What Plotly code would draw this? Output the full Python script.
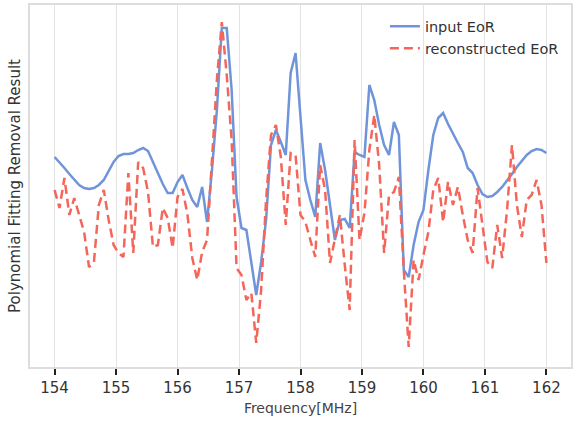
import numpy as np
import plotly.graph_objects as go

# Frequency channels: 154-162 MHz in 0.08 MHz steps (101 channels)
freq = np.round(154 + 0.08 * np.arange(101), 2)

input_eor = [
    4.3, 3.8, 3.2, 2.6, 2.0, 1.5, 1.2, 1.1, 1.2, 1.5,
    2.0, 2.9, 3.8, 4.4, 4.6, 4.6, 4.7, 5.0, 5.2, 4.9,
    3.8, 2.6, 1.6, 0.7, 0.7, 1.8, 2.5, 1.2, 0.0, -0.7,
    1.3, -2.2, 3.0, 9.0, 17.2, 17.2, 11.0, 0.3, -2.8, -3.0,
    -6.2, -9.5, -6.2, -2.0, 5.5, 7.0, 5.8, 4.5, 12.7, 14.7,
    8.3, 2.0, 0.0, -1.7, 5.7, 3.0, -0.5, -4.0, -2.0, -1.9,
    -2.8, 4.8, 4.5, 4.3, 11.5, 10.0, 7.5, 5.5, 4.5, 7.8,
    6.5, -7.0, -7.7, -4.5, -2.2, -1.0, 3.0, 6.5, 8.2, 8.7,
    7.6, 6.6, 5.7, 4.8, 3.2, 2.7, 1.5, 0.6, 0.3, 0.4,
    0.8, 1.3, 1.9, 2.6, 3.3, 3.9, 4.5, 4.9, 5.1, 5.0,
    4.7,
]

reconstructed_eor = [
    1.0, -0.8, 2.2, -1.5, 0.2, -1.5, -3.2, -6.7, -6.2, -0.5,
    1.0, -2.0, -4.5, -5.3, -5.7, 2.7, -5.3, 3.8, 3.2, 0.8,
    -4.7, -4.5, -0.8, -1.8, -4.8, 0.3, 1.1, -1.4, -5.8, -8.0,
    -5.2, -4.0, 4.0, 12.0, 17.8, 12.5, 6.0, -6.8, -7.5, -10.0,
    -9.3, -14.3, -9.0, 0.0, 6.5, 7.5, 4.3, -2.5, 4.7, 4.5,
    -1.5, -2.2, -4.0, -5.7, 3.5, 1.0, -6.3, -3.7, -1.5, -6.5,
    -11.0, 6.0, -4.0, -1.3, 5.0, 8.5, 3.5, -5.3, 0.5, 0.8,
    2.3, -7.0, -14.7, -6.0, -8.0, -5.5, -3.2, 1.0, 2.2, -2.2,
    1.8, -0.5, 1.3, -1.5, -4.0, -5.3, 1.2, -2.5, -6.2, -6.8,
    -2.5, -5.8, -1.0, 5.5, -0.5, -3.7, 0.0, 0.5, 2.0, -0.5,
    -6.3,
]

tick_vals = [154, 155, 156, 157, 158, 159, 160, 161, 162]

fig = go.Figure()
fig.add_trace(go.Scatter(
    x=freq, y=input_eor, mode="lines", name="input EoR",
    line=dict(color="#7094DA", width=2.5),
))
fig.add_trace(go.Scatter(
    x=freq, y=reconstructed_eor, mode="lines", name="reconstructed EoR",
    line=dict(color="#F4665A", width=2.5, dash="9px,5px"),
))

font_family = "DejaVu Sans"
fig.update_layout(
    width=576, height=423,
    margin=dict(l=30, r=3, t=5, b=56),
    paper_bgcolor="white", plot_bgcolor="white",
    font=dict(family=font_family, color="#333333"),
    showlegend=True,
    legend=dict(
        x=0.656, y=0.985, xanchor="left", yanchor="top",
        bgcolor="rgba(255,255,255,0)", font=dict(size=14.5, color="#333333"),
        tracegroupgap=0,
    ),
    xaxis=dict(
        range=[153.6, 162.4],
        tickvals=tick_vals, ticktext=[str(t) for t in tick_vals],
        tickfont=dict(size=15, color="#333333"),
        ticks="outside", ticklen=6, tickwidth=2, tickcolor="#222222",
        showgrid=True, gridcolor="#E3E3E3", gridwidth=1,
        showline=True, linecolor="#DDDDDD", linewidth=1.5, mirror=True,
        zeroline=False,
        title=dict(text="Frequency[MHz]", font=dict(size=14, color="#444444"), standoff=7),
    ),
    yaxis=dict(
        range=[-16.7, 19.5],
        showticklabels=False, ticks="", showgrid=False, zeroline=False,
        showline=True, linecolor="#DDDDDD", linewidth=1.5, mirror=True,
        title=dict(text="Polynomial Fitting Removal Result",
                   font=dict(size=15, color="#333333"), standoff=4),
    ),
)

fig.write_html("out.html")
